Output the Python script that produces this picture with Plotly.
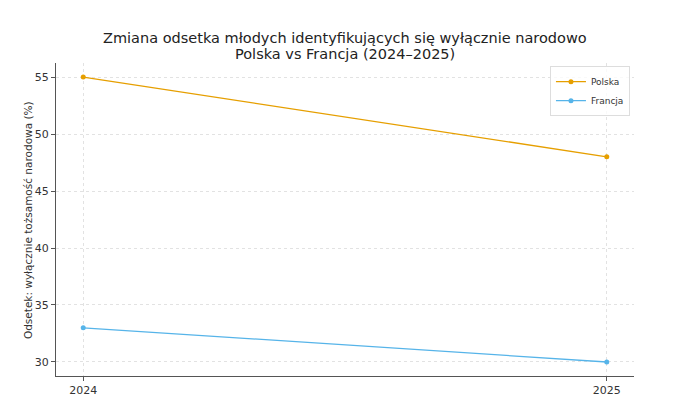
import plotly.graph_objects as go

years = [2024, 2025]
polska = [55, 48]
francja = [33, 30]

title_1 = 'Zmiana odsetka młodych identyfikujących się wyłącznie narodowo'
title_2 = 'Polska vs Francja (2024–2025)'
y_title = 'Odsetek: wyłącznie tożsamość narodowa (%)'

fig = go.Figure()
fig.add_trace(go.Scatter(x=years, y=polska, name='Polska', mode='lines+markers',
                         line=dict(color='#E69F00', width=1.3), marker=dict(size=5)))
fig.add_trace(go.Scatter(x=years, y=francja, name='Francja', mode='lines+markers',
                         line=dict(color='#56B4E9', width=1.3), marker=dict(size=5)))

# the page body adds ~8px offset, so the figure is a bit smaller than the window
fig.update_layout(
    width=672, height=404,
    margin=dict(l=48, r=46, t=55, b=36),
    paper_bgcolor='white', plot_bgcolor='white',
    font=dict(family='DejaVu Sans', color='#333333'),
    legend=dict(x=0.993, y=0.99, xanchor='right', yanchor='top',
                bordercolor='#dddddd', borderwidth=1, bgcolor='rgba(255,255,255,0.8)',
                font=dict(size=9), tracegroupgap=0, itemwidth=30),
    showlegend=True,
)

fig.add_annotation(text=title_1, xref='paper', yref='paper', x=0.5, y=1.0799,
                   xanchor='center', yanchor='middle', showarrow=False,
                   font=dict(size=14.5, color='#222222'))
fig.add_annotation(text=title_2, xref='paper', yref='paper', x=0.5, y=1.0288,
                   xanchor='center', yanchor='middle', showarrow=False,
                   font=dict(size=14.5, color='#222222'))
fig.add_annotation(text=y_title, xref='paper', yref='paper', x=-0.0485, y=0.498,
                   xanchor='center', yanchor='middle', showarrow=False, textangle=-90,
                   font=dict(size=10.5, color='#333333'))

fig.update_xaxes(range=[2023.948, 2025.052], tickvals=years, ticktext=['2024', '2025'],
                 showline=True, linecolor='#555555', linewidth=1,
                 ticks='outside', ticklen=4, tickcolor='#555555',
                 showgrid=True, gridcolor='#e2e2e2', griddash='dot', gridwidth=1,
                 tickfont=dict(size=11), zeroline=False)
fig.update_yaxes(range=[28.77, 56.23], tickvals=[30, 35, 40, 45, 50, 55],
                 showline=True, linecolor='#555555', linewidth=1,
                 ticks='outside', ticklen=4, tickcolor='#555555',
                 showgrid=True, gridcolor='#e2e2e2', griddash='dot', gridwidth=1,
                 tickfont=dict(size=11), zeroline=False)

fig.write_html("out.html")
